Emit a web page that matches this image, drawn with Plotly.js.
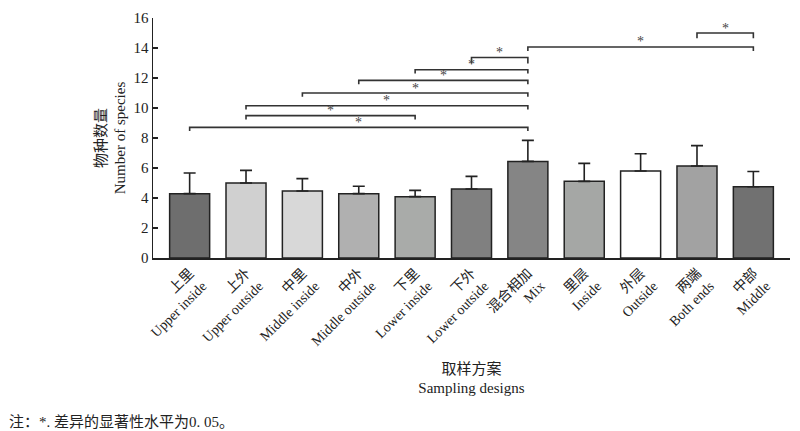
<!DOCTYPE html>
<html>
<head>
<meta charset="utf-8">
<script src="https://cdn.plot.ly/plotly-3.0.1.min.js"></script>
<style>html,body{margin:0;padding:0;background:#fff;}#chart{width:800px;height:431px;}</style>
</head>
<body>
<div id="chart"></div>
<script>
const categoriesCN = ['上里','上外','中里','中外','下里','下外','混合相加','里层','外层','两端','中部'];
const categoriesEN = ['Upper inside','Upper outside','Middle inside','Middle outside','Lower inside','Lower outside','Mix','Inside','Outside','Both ends','Middle'];
const meanSpecies = [4.29, 5.00, 4.47, 4.29, 4.09, 4.60, 6.44, 5.11, 5.80, 6.13, 4.75];
const errorUpper = [1.38, 0.84, 0.82, 0.49, 0.42, 0.84, 1.40, 1.20, 1.15, 1.36, 1.02];
const barColors = ['#6e6e6e','#d0d0d0','#d8d8d8','#b0b0b0','#a9aba9','#808080','#858585','#a5a7a5','#ffffff','#a2a2a2','#717171'];
// significance brackets: [from index, to index], bracket height (y value)
const bracketPairs = [[0,6],[1,4],[1,6],[2,6],[3,6],[4,6],[5,6],[6,10],[9,10]];
const bracketLevels = [8.71, 9.49, 10.15, 11.0, 11.84, 12.55, 13.37, 14.07, 15.0];
const bracketMarks = ['*','*','*','*','*','*','*','*','*'];
const yTicks = [0,2,4,6,8,10,12,14,16];

const FONT = '"Liberation Serif", "Times New Roman", "Noto Sans CJK SC", serif';
const xIdx = categoriesCN.map((_, i) => i);
const tickText = categoriesCN.map((c, i) => c + '<br>' + categoriesEN[i]);

const trace = {
  type: 'bar',
  x: xIdx,
  y: meanSpecies,
  width: 0.71,
  marker: {color: barColors, line: {color: '#222', width: 1.5}},
  error_y: {type: 'data', symmetric: false, array: errorUpper, arrayminus: meanSpecies.map(() => 0),
            color: '#222', thickness: 1.6, width: 6},
  hoverinfo: 'skip'
};

const hook = [0.25, 0.25, 0.25, 0.25, 0.25, 0.25, 0.4, 0.27, 0.35];
const shapes = bracketPairs.map((p, k) => {
  const y = bracketLevels[k], h = y - hook[k];
  return {type: 'path', xref: 'x', yref: 'y',
    path: `M ${p[0]},${h} L ${p[0]},${y} L ${p[1]},${y} L ${p[1]},${h}`,
    line: {color: '#333', width: 1.6}};
});
const annotations = bracketPairs.map((p, k) => ({
  xref: 'x', yref: 'y', x: (p[0] + p[1]) / 2, y: bracketLevels[k],
  text: bracketMarks[k], showarrow: false, yanchor: 'middle', yshift: 5,
  font: {family: FONT, size: 14, color: '#444'}
}));
annotations.push({
  xref: 'paper', yref: 'paper', x: -153/637 + 7/637, xanchor: 'left', y: -(422-258)/240, yanchor: 'middle',
  text: '注：*. 差异的显著性水平为0. 05。', showarrow: false,
  font: {family: FONT, size: 15, color: '#222'}
});

const layout = {
  width: 800, height: 431,
  margin: {l: 153, r: 10, t: 18, b: 173},
  paper_bgcolor: '#fff', plot_bgcolor: '#fff',
  showlegend: false,
  font: {family: FONT, color: '#222'},
  xaxis: {
    range: [-0.65, 10.65], tickvals: xIdx, ticktext: tickText, tickangle: -45,
    tickfont: {family: FONT, size: 14, color: '#222'},
    showline: true, linecolor: '#222', linewidth: 1.5, ticks: '', showgrid: false, zeroline: false,
    automargin: false, fixedrange: true,
    title: {text: '取样方案<br>Sampling designs', font: {family: FONT, size: 15, color: '#222'}, standoff: 15}
  },
  yaxis: {
    range: [0, 16], tickvals: yTicks, ticks: 'inside', ticklen: 5, tickwidth: 1.5, tickcolor: '#222',
    tickfont: {family: FONT, size: 15, color: '#222'},
    showline: true, linecolor: '#222', linewidth: 1.5, showgrid: false, zeroline: false,
    automargin: false, fixedrange: true,
    title: {text: '物种数量<br>Number of species', font: {family: FONT, size: 15, color: '#222'}, standoff: 4}
  },
  shapes: shapes,
  annotations: annotations
};

Plotly.newPlot('chart', [trace], layout, {displayModeBar: false, staticPlot: true});
</script>
</body>
</html>
